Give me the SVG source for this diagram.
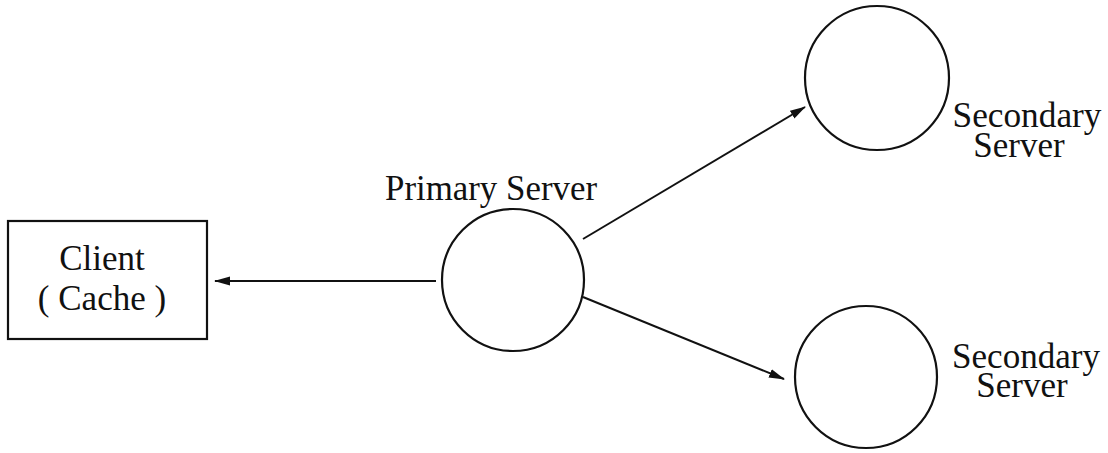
<svg xmlns="http://www.w3.org/2000/svg" width="1108" height="453" viewBox="0 0 1108 453">
<style>
.shape{fill:none;stroke:#111;stroke-width:2.2}
.edge{stroke:#111;stroke-width:2;fill:none}
text{font-family:"Liberation Serif","Times New Roman",serif;font-size:35px;fill:#111;text-anchor:middle}
</style>
<defs>
<marker id="arr" markerWidth="16" markerHeight="10" refX="15" refY="5" orient="auto" markerUnits="userSpaceOnUse">
<path d="M0,0.5 L16,5 L0,9.5 Z" fill="#111"/>
</marker>
</defs>
<rect width="1108" height="453" fill="#fff"/>
<g id="client">
<rect class="shape" x="8" y="221" width="199" height="118"/>
<text x="102" y="270">Client</text>
<text x="102" y="310">( Cache )</text>
</g>
<g id="primary">
<circle class="shape" cx="513" cy="280" r="71"/>
<text x="491" y="200" textLength="212" lengthAdjust="spacingAndGlyphs">Primary Server</text>
</g>
<g id="secondary1">
<circle class="shape" cx="877" cy="78" r="72"/>
<text x="1027" y="127" textLength="149" lengthAdjust="spacingAndGlyphs">Secondary</text>
<text x="1019" y="157">Server</text>
</g>
<g id="secondary2">
<circle class="shape" cx="866" cy="377" r="71"/>
<text x="1026" y="368" textLength="148" lengthAdjust="spacingAndGlyphs">Secondary</text>
<text x="1022" y="397">Server</text>
</g>
<g id="connectors">
<line class="edge" x1="436" y1="281" x2="215" y2="281" marker-end="url(#arr)"/>
<line class="edge" x1="583" y1="239" x2="805" y2="107" marker-end="url(#arr)"/>
<line class="edge" x1="583" y1="297" x2="784" y2="379" marker-end="url(#arr)"/>
</g>
</svg>
